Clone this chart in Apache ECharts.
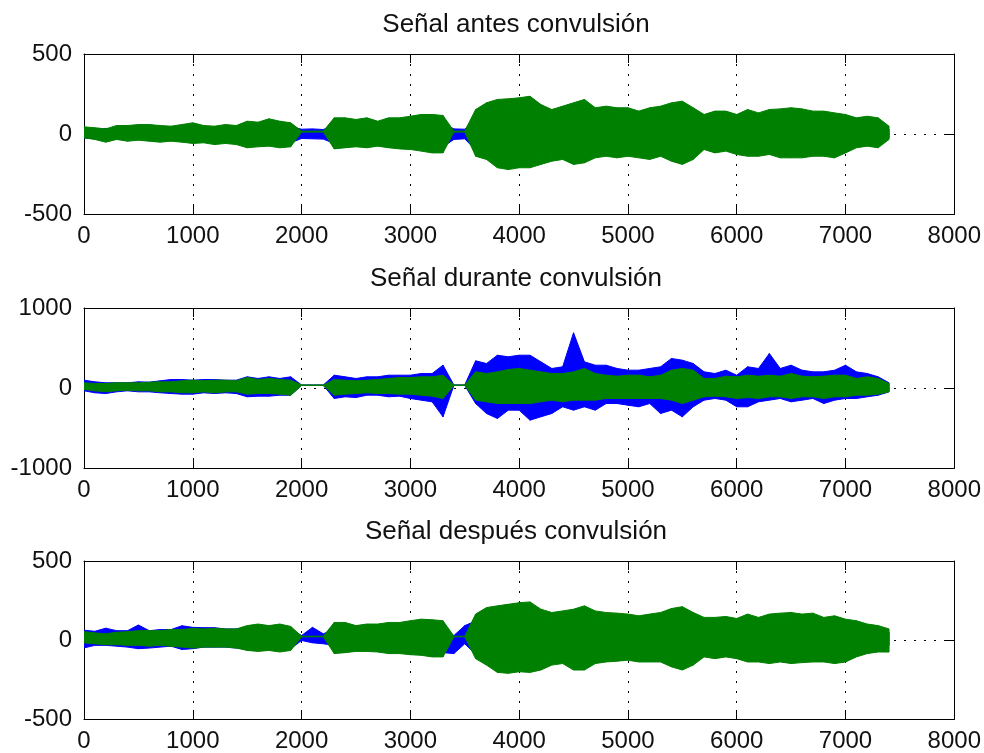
<!DOCTYPE html>
<html>
<head>
<meta charset="utf-8">
<script src="https://cdn.jsdelivr.net/npm/echarts@6/dist/echarts.min.js"></script>
<style>
  html, body { margin: 0; padding: 0; background: #fff; }
  #main { width: 984px; height: 753px; }
</style>
</head>
<body>
<div id="main"></div>
<script>
// sample positions (every 100 samples), envelope
var xs = [0,100,200,300,400,500,600,700,800,900,1000,1100,1200,1300,1400,1500,1600,1700,1800,1900,
  2000,2100,2200,2300,2400,2500,2600,2700,2800,2900,3000,3100,3200,3300,3400,3500,3600,3700,3800,3900,
  4000,4100,4200,4300,4400,4500,4600,4700,4800,4900,5000,5100,5200,5300,5400,5500,5600,5700,5800,5900,
  6000,6100,6200,6300,6400,6500,6600,6700,6800,6900,7000,7100,7200,7300,7400];

var titles = ['Señal antes convulsión', 'Señal durante convulsión', 'Señal después convulsión'];
var xTicks = [0, 8000, 1000];
var yRanges = [[-500, 500, 500], [-1000, 1000, 1000], [-500, 500, 500]];

// antes
var antesBlueHi = [30,30,35,30,30,30,35,30,30,35,40,35,35,35,35,50,50,55,50,45,
  30,32,28, 60,60,55,60,50,60,60,70,70,75,70, 32,30,
  100,120,140,140,140,150,120,100,110,120,130,100,110,100,100,90,100,110,120,130,
  100,70,90,90,80,90,80,90,90,100,90,90,80,80,70,60,70,60,30];
var antesBlueLo = [-25,-30,-40,-30,-35,-30,-35,-40,-35,-40,-45,-45,-50,-45,-50,-60,-60,-55,-60,-55,
  -28,-30,-32, -60,-60,-55,-60,-50,-60,-65,-70,-75,-80,-80, -34,-30,
  -100,-110,-150,-160,-150,-150,-130,-120,-110,-130,-120,-100,-90,-100,-90,-100,-100,-90,-120,-130,
  -110,-70,-80,-75,-90,-100,-100,-90,-100,-100,-100,-100,-100,-90,-90,-60,-50,-60,-25];
var antesGreenHi = [45,39,32,53,53,59,59,53,49,59,70,53,49,59,53,80,74,95,80,70,
  18,18,18, 101,101,91,101,80,101,101,111,122,122,116, 18,18,
  153,195,216,220,226,236,184,153,174,195,216,164,174,164,164,143,164,174,195,205,
  164,122,143,143,122,153,132,153,157,164,157,143,143,132,122,101,111,101,49];
var antesGreenLo = [-24,-34,-51,-34,-45,-39,-45,-51,-45,-51,-59,-55,-66,-59,-66,-86,-80,-76,-86,-80,
  12,12,12, -93,-86,-80,-86,-76,-86,-93,-97,-107,-118,-118, 12,12,
  -139,-159,-211,-222,-211,-211,-190,-170,-159,-190,-180,-149,-139,-149,-139,-149,-159,-139,-170,-190,
  -159,-97,-118,-107,-128,-139,-139,-128,-149,-149,-149,-139,-139,-149,-118,-86,-76,-86,-34];

// durante
var duranteBlueHi = [98,77,65,65,65,77,73,90,106,106,98,106,106,98,98,140,119,140,119,140,
  38,38,38, 160,140,119,140,140,160,160,160,181,181,285, 38,38,
  340,306,410,390,410,410,327,244,265,690,327,285,285,244,223,223,244,265,369,348,
  306,202,181,223,160,265,244,431,244,285,223,202,202,223,285,202,181,140,65];
var duranteBlueLo = [-35,-60,-69,-48,-35,-48,-48,-60,-69,-77,-77,-60,-69,-60,-69,-110,-102,-102,-90,-90,
  32,32,32, -131,-110,-119,-90,-90,-110,-102,-131,-152,-173,-360, 32,32,
  -194,-319,-381,-277,-277,-402,-360,-319,-235,-277,-235,-277,-194,-194,-215,-235,-194,-319,-277,-360,
  -235,-152,-131,-152,-235,-235,-173,-152,-131,-173,-152,-131,-194,-152,-131,-131,-110,-90,-48];
var duranteGreenHi = [65,56,56,65,65,65,73,77,77,90,98,90,98,98,90,131,106,119,106,98,
  38,38,38, 106,98,90,98,106,119,131,131,140,140,160, 38,38,
  202,181,202,231,244,223,202,181,181,202,244,181,160,148,160,160,140,160,223,244,
  223,119,119,148,140,160,148,160,148,181,148,140,148,160,160,119,140,119,56];
var duranteGreenLo = [-19,-35,-48,-35,-27,-35,-35,-48,-48,-60,-60,-48,-60,-48,-48,-77,-69,-69,-77,-90,
  32,32,32, -90,-77,-69,-60,-69,-69,-77,-77,-90,-102,-131, 32,32,
  -152,-173,-194,-194,-194,-194,-173,-152,-173,-152,-152,-152,-131,-131,-131,-131,-131,-131,-152,-194,
  -152,-110,-102,-110,-131,-119,-131,-110,-110,-131,-110,-110,-131,-110,-110,-90,-90,-77,-48];

// despues
var despuesBlueHi = [62,55,75,59,59,95,59,66,66,90,80,78,78,70,70,80,80,80,80,70,
  28,80,39, 70,70,60,70,60,70,70,80,80,80,70, 28,91,
  120,130,140,150,150,150,130,120,120,130,140,120,110,110,110,100,110,153,130,140,
  120,90,90,100,90,110,90,110,110,110,110,110,90,100,90,80,60,60,50];
var despuesBlueLo = [-50,-34,-34,-39,-45,-55,-51,-45,-39,-60,-55,-45,-45,-45,-51,-55,-55,-55,-55,-55,
  -3,-18,-24, -34,-60,-55,-60,-60,-65,-65,-70,-75,-80,-80, -86,-24,
  -90,-120,-150,-160,-150,-150,-140,-120,-110,-140,-140,-110,-100,-100,-100,-100,-100,-100,-120,-140,
  -120,-80,-90,-80,-90,-100,-110,-100,-110,-100,-100,-100,-110,-100,-80,-60,-55,-55,-35];
var despuesGreenHi = [53,45,39,49,53,59,59,59,66,66,74,70,74,70,70,91,101,91,101,86,
  24,24,24, 111,111,91,101,101,111,111,122,132,128,122, 24,24,
  164,205,216,226,236,241,195,174,184,195,216,184,174,170,164,153,164,174,199,211,
  174,143,143,149,136,164,143,164,170,174,164,170,143,153,132,122,101,91,70];
var despuesGreenLo = [-18,-24,-30,-30,-34,-34,-39,-34,-39,-45,-51,-45,-45,-45,-51,-66,-72,-66,-76,-66,
  20,20,20, -86,-80,-72,-72,-76,-86,-86,-93,-97,-107,-107, 20,20,
  -118,-159,-205,-211,-201,-205,-190,-159,-149,-190,-190,-149,-139,-134,-128,-139,-139,-139,-170,-190,
  -159,-107,-118,-107,-118,-139,-139,-149,-139,-149,-143,-139,-139,-149,-139,-107,-86,-76,-76,-45];

var BLUE = '#0000ff';
var GREEN = '#008000';
var FONT = 'Liberation Sans, Arial, sans-serif';
var TXT = '#111';

var chart = echarts.init(document.getElementById('main'), null, { renderer: 'canvas' });

var gridTops = [54, 308, 561];
var gridH = 160;

// filled band between lo and hi, one quad per pair of neighbouring samples
function band(id, hi, lo, color, axis) {
  var data = [];
  for (var i = 0; i < xs.length - 1; i++) {
    data.push([xs[i], lo[i], hi[i], xs[i + 1], lo[i + 1], hi[i + 1]]);
  }
  return {
    type: 'custom',
    name: id,
    xAxisIndex: axis,
    yAxisIndex: axis,
    silent: true,
    clip: true,
    encode: { x: [0, 3], y: [1, 2, 4, 5] },
    data: data,
    renderItem: function (params, api) {
      var pts = [
        api.coord([api.value(0), api.value(2)]),
        api.coord([api.value(3), api.value(5)]),
        api.coord([api.value(3), api.value(4)]),
        api.coord([api.value(0), api.value(1)])
      ];
      return {
        type: 'polygon',
        shape: { points: pts },
        style: { fill: color, stroke: color, lineWidth: 1 }
      };
    }
  };
}

var grids = [], xAxes = [], yAxes = [], titleList = [];
var dotted = { color: '#000', width: 1, type: [2, 8] };
var axLine = { show: true, onZero: false, lineStyle: { color: '#000', width: 1 } };

for (var g = 0; g < 3; g++) {
  grids.push({ left: 84, width: 871, top: gridTops[g], height: gridH });
  titleList.push({
    text: titles[g], left: 511, top: gridTops[g] - 47, textAlign: 'center',
    textStyle: { fontSize: 26, fontWeight: 'normal', fontFamily: FONT, color: TXT }
  });
  xAxes.push({
    type: 'value', gridIndex: g, min: xTicks[0], max: xTicks[1], interval: xTicks[2],
    axisLine: axLine,
    axisTick: { inside: true, length: 9, lineStyle: { color: '#000' } },
    axisLabel: { fontSize: 24, fontFamily: FONT, color: TXT, margin: 10,
      formatter: function (v) { return String(v); } },
    splitLine: { show: true, lineStyle: dotted }
  });
  yAxes.push({
    type: 'value', gridIndex: g, min: yRanges[g][0], max: yRanges[g][1], interval: yRanges[g][2],
    axisLine: axLine,
    axisTick: { inside: true, length: 9, lineStyle: { color: '#000' } },
    axisLabel: { fontSize: 24, fontFamily: FONT, color: TXT, margin: 12,
      formatter: function (v) { return String(v); } },
    splitLine: { show: true, lineStyle: dotted }
  });
}
// mirrored top / right axes for the box and inner ticks
for (var g = 0; g < 3; g++) {
  xAxes.push({
    type: 'value', gridIndex: g, position: 'top', min: xTicks[0], max: xTicks[1], interval: xTicks[2],
    axisLine: axLine,
    axisTick: { inside: true, length: 9, lineStyle: { color: '#000' } },
    axisLabel: { show: false }, splitLine: { show: false }
  });
  yAxes.push({
    type: 'value', gridIndex: g, position: 'right', min: yRanges[g][0], max: yRanges[g][1], interval: yRanges[g][2],
    axisLine: axLine,
    axisTick: { inside: true, length: 9, lineStyle: { color: '#000' } },
    axisLabel: { show: false }, splitLine: { show: false }
  });
}

var series = [
  band('antesB', antesBlueHi, antesBlueLo, BLUE, 0),
  band('antesG', antesGreenHi, antesGreenLo, GREEN, 0),
  band('duranteB', duranteBlueHi, duranteBlueLo, BLUE, 1),
  band('duranteG', duranteGreenHi, duranteGreenLo, GREEN, 1),
  band('despuesB', despuesBlueHi, despuesBlueLo, BLUE, 2),
  band('despuesG', despuesGreenHi, despuesGreenLo, GREEN, 2)
];

chart.setOption({
  animation: false,
  backgroundColor: '#fff',
  title: titleList,
  grid: grids,
  xAxis: xAxes,
  yAxis: yAxes,
  series: series
});
</script>
</body>
</html>
